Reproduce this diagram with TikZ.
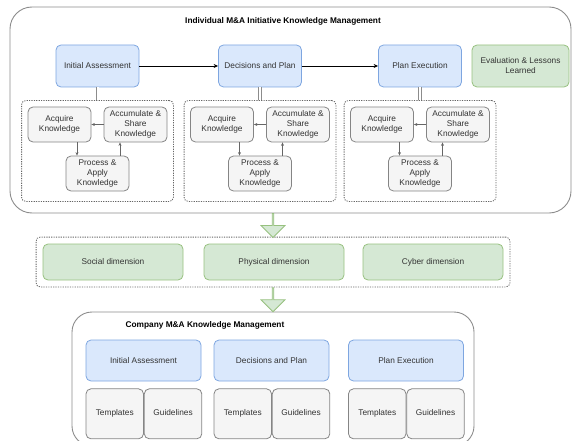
\documentclass[tikz,border=0pt]{standalone}
\usepackage{fontspec}
\setmainfont{Liberation Sans}
\usetikzlibrary{positioning,fit,calc,arrows.meta,shapes.arrows}

\definecolor{blueFill}{HTML}{DAE8FC}
\definecolor{blueLine}{HTML}{7EA6E0}
\definecolor{greenFill}{HTML}{D5E8D4}
\definecolor{greenLine}{HTML}{97C17F}
\definecolor{grayFill}{HTML}{F5F5F5}
\definecolor{grayLine}{HTML}{666666}
\definecolor{panelLine}{HTML}{8C8C8C}
\definecolor{txt}{HTML}{333333}

\tikzset{
  box/.style={draw, rounded corners=5pt, line width=0.8pt, align=center, text=txt,
    font=\fontsize{8.3}{10}\selectfont, inner sep=1pt},
  phase/.style={box, fill=blueFill, draw=blueLine, minimum width=83pt, minimum height=42pt},
  lessons/.style={box, fill=greenFill, draw=greenLine, minimum width=97pt, minimum height=42pt},
  kstep/.style={box, fill=grayFill, draw=grayLine!80, minimum width=63pt, minimum height=35pt},
  dimbox/.style={box, fill=greenFill, draw=greenLine, minimum width=140pt, minimum height=36pt,
    text height=6pt, text depth=2pt},
  cphase/.style={phase, minimum width=115pt, minimum height=41pt},
  doc/.style={box, fill=grayFill, draw=grayLine!80, minimum width=57.5pt, minimum height=50pt,
    text height=6pt, text depth=2pt},
  group/.style={draw=grayLine, dash pattern=on 1.2pt off 1.2pt, line width=0.8pt,
    rounded corners=4pt, inner sep=6pt},
  panel/.style={draw=panelLine, line width=0.9pt, rounded corners=22pt},
  title/.style={font=\bfseries\fontsize{8.3}{10}\selectfont, text=black},
  flow/.style={-{Stealth[length=4.5pt,width=4pt]}, line width=0.8pt},
  cycle/.style={-{Stealth[length=3.5pt,width=3pt]}, draw=grayLine, line width=0.7pt},
  link/.style={draw=panelLine, double=white, double distance=2pt, line width=0.7pt},
  bigarrow/.style={single arrow, draw=greenLine, fill=greenFill, line width=0.8pt,
    minimum width=24pt, single arrow head extend=6pt, rotate=-90, inner sep=0pt}
}

\begin{document}
\begin{tikzpicture}[x=1pt, y=-1pt]
  \useasboundingbox (0,0) rectangle (572,441);

  % individual initiative
  \node[panel, minimum width=561pt, minimum height=206pt] (ind) at (290.5,110) {};
  \node[title] (indt) at (283,21) {Individual M\&A Initiative Knowledge Management};

  \node[phase] (ia) at (97.5,66) {Initial Assessment};
  \node[phase] (dp) at (260,66) {Decisions and Plan};
  \node[phase] (pe) at (420,66) {Plan Execution};
  \node[lessons] (ev) at (520.5,66) {Evaluation \& Lessons\\Learned};

  \path[flow]
    (ia) edge (dp)
    (dp) edge (pe);

  % knowledge cycle of each phase
  \node[kstep, on grid, below left=58.5pt and 38pt of ia] (acq1) {Acquire\\Knowledge};
  \node[kstep, on grid, below right=58.5pt and 38pt of ia] (acc1) {Accumulate \&\\Share\\Knowledge};
  \node[kstep, on grid, below=107.5pt of ia] (pro1) {Process \&\\Apply\\Knowledge};
  \node[group, fit={(acq1)(acc1)(pro1)([yshift=-4pt]pro1.south)}] (g1) {};

  \node[kstep, on grid, below left=58.5pt and 38pt of dp] (acq2) {Acquire\\Knowledge};
  \node[kstep, on grid, below right=58.5pt and 38pt of dp] (acc2) {Accumulate \&\\Share\\Knowledge};
  \node[kstep, on grid, below=107.5pt of dp] (pro2) {Process \&\\Apply\\Knowledge};
  \node[group, fit={(acq2)(acc2)(pro2)([yshift=-4pt]pro2.south)}] (g2) {};

  \node[kstep, on grid, below left=58.5pt and 38pt of pe] (acq3) {Acquire\\Knowledge};
  \node[kstep, on grid, below right=58.5pt and 38pt of pe] (acc3) {Accumulate \&\\Share\\Knowledge};
  \node[kstep, on grid, below=107.5pt of pe] (pro3) {Process \&\\Apply\\Knowledge};
  \node[group, fit={(acq3)(acc3)(pro3)([yshift=-4pt]pro3.south)}] (g3) {};

  \draw[link] (ia) -- (g1);
  \draw[link] (dp) -- (g2);
  \draw[link] (pe) -- (g3);

  \draw[cycle] (acc1) -- (acq1);
  \draw[cycle] ([xshift=17.5pt]acq1.south) -- ([xshift=17.5pt]acq1.south |- pro1.north);
  \draw[cycle] ([xshift=-15.5pt]acc1.south |- pro1.north) -- ([xshift=-15.5pt]acc1.south);
  \draw[cycle] (acc2) -- (acq2);
  \draw[cycle] ([xshift=17.5pt]acq2.south) -- ([xshift=17.5pt]acq2.south |- pro2.north);
  \draw[cycle] ([xshift=-15.5pt]acc2.south |- pro2.north) -- ([xshift=-15.5pt]acc2.south);
  \draw[cycle] (acc3) -- (acq3);
  \draw[cycle] ([xshift=17.5pt]acq3.south) -- ([xshift=17.5pt]acq3.south |- pro3.north);
  \draw[cycle] ([xshift=-15.5pt]acc3.south |- pro3.north) -- ([xshift=-15.5pt]acc3.south);

  % dimensions
  \node[dimbox] (soc) at (113,262) {Social dimension};
  \node[dimbox] (phy) at (274,262) {Physical dimension};
  \node[dimbox] (cyb) at (433,262) {Cyber dimension};
  \node[group, fit=(soc)(phy)(cyb), inner sep=6.5pt] (dims) {};

  % company
  \node[panel, minimum width=402pt, minimum height=134pt, rounded corners=20pt] (comp) at (273,379) {};
  \node[title] (compt) at (205,325) {Company M\&A Knowledge Management};

  \node[bigarrow, minimum height=24pt] (down1) at ($(ind.south -| dims.north)!0.5!(dims.north)$) {};
  \node[bigarrow, minimum height=24pt] (down2) at ($(dims.south)!0.5!(comp.north)$) {};

  \node[cphase] (cia) at (143.5,360.5) {Initial Assessment};
  \node[cphase] (cdp) at (271.5,360.5) {Decisions and Plan};
  \node[cphase] (cpe) at (406,360.5) {Plan Execution};

  \node[doc, below right=7pt and 0pt of cia.south west] (tpl1) {Templates};
  \node[doc, right=0pt of tpl1] (gdl1) {Guidelines};
  \node[doc, below right=7pt and 0pt of cdp.south west] (tpl2) {Templates};
  \node[doc, right=0pt of tpl2] (gdl2) {Guidelines};
  \node[doc, below right=7pt and 0pt of cpe.south west] (tpl3) {Templates};
  \node[doc, right=0pt of tpl3] (gdl3) {Guidelines};
\end{tikzpicture}
\end{document}
